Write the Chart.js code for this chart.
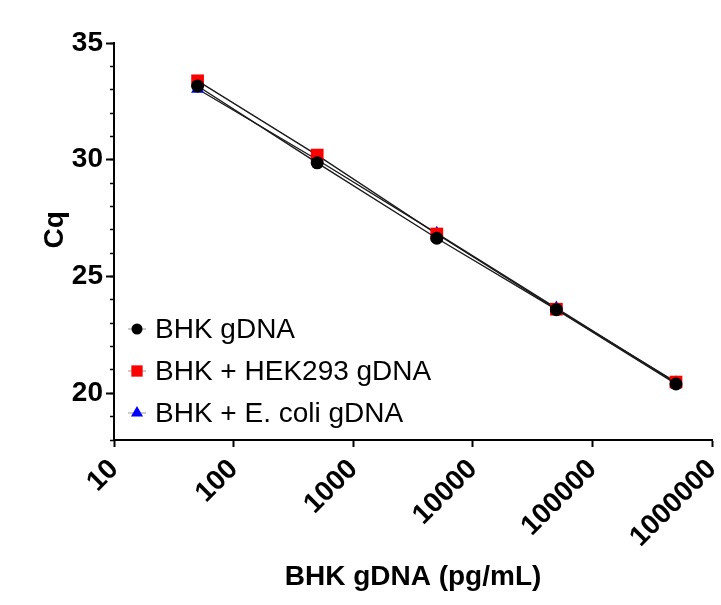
<!DOCTYPE html>
<html><head><meta charset="utf-8">
<script src="https://cdn.jsdelivr.net/npm/chart.js@4.4.1/dist/chart.umd.min.js"></script>
<style>html,body{margin:0;padding:0;background:#fff}#wrap{width:721px;height:605px;position:relative}</style>
</head><body><div id="wrap"><canvas id="c"></canvas></div>
<script>
const concentrations = [50, 500, 5000, 50000, 500000];
const bhkCq = [33.16, 29.87, 26.64, 23.58, 20.40];
const hekCq = [33.38, 30.20, 26.82, 23.60, 20.48];
const ecoliCq = [33.03, 30.00, 26.85, 23.65, 20.45];
const seriesLabels = ['BHK gDNA', 'BHK + HEK293 gDNA', 'BHK + E. coli gDNA'];
const xTickValues = [10, 100, 1000, 10000, 100000, 1000000];
const yLabelValues = [20, 25, 30, 35];

const FONT = "'Liberation Sans', Arial, sans-serif";
const toPts = ys => concentrations.map((x, i) => ({x: x, y: ys[i]}));

const styles = [
  {pointStyle: 'circle', radius: 6.5, color: '#000000', legendR: 5.5},
  {pointStyle: 'rect', radius: 9, color: '#ff0000', legendR: 8},
  {pointStyle: 'triangle', radius: 7.5, color: '#0000ff', legendR: 7}
];
const seriesData = [bhkCq, hekCq, ecoliCq];

const datasets = seriesData.map((ys, i) => ({
  label: seriesLabels[i],
  data: toPts(ys),
  showLine: true,
  borderColor: '#1a1a1a',
  borderWidth: 1.4,
  pointStyle: styles[i].pointStyle,
  pointRadius: styles[i].radius,
  pointHoverRadius: styles[i].radius,
  pointBackgroundColor: styles[i].color,
  pointBorderColor: styles[i].color,
  pointBorderWidth: 0,
  yAxisID: 'y'
}));

const insideLegend = {
  id: 'insideLegend',
  afterDatasetsDraw(chart) {
    const ctx = chart.ctx, a = chart.chartArea;
    ctx.save();
    ctx.font = "28px " + FONT;
    ctx.textBaseline = 'middle';
    ctx.fillStyle = '#000';
    chart.data.datasets.forEach((ds, i) => {
      const cy = a.top + 286 + i * 42;
      const cx = a.left + 23;
      ctx.strokeStyle = '#999';
      ctx.lineWidth = 1;
      ctx.beginPath(); ctx.moveTo(cx - 9, cy); ctx.lineTo(cx + 9, cy); ctx.stroke();
      ctx.fillStyle = styles[i].color;
      const r = styles[i].legendR;
      ctx.beginPath();
      if (styles[i].pointStyle === 'circle') {
        ctx.arc(cx, cy, r, 0, Math.PI * 2);
      } else if (styles[i].pointStyle === 'rect') {
        const s = r * Math.SQRT1_2;
        ctx.rect(cx - s, cy - s, 2 * s, 2 * s);
      } else {
        ctx.moveTo(cx, cy - r);
        ctx.lineTo(cx + r * Math.sin(2 * Math.PI / 3), cy - r * Math.cos(2 * Math.PI / 3));
        ctx.lineTo(cx + r * Math.sin(4 * Math.PI / 3), cy - r * Math.cos(4 * Math.PI / 3));
        ctx.closePath();
      }
      ctx.fill();
      ctx.fillStyle = '#000';
      ctx.fillText(ds.label, a.left + 41, cy + 1);
    });
    ctx.restore();
  }
};

new Chart(document.getElementById('c'), {
  type: 'scatter',
  data: {datasets: datasets},
  plugins: [insideLegend],
  options: {
    responsive: true,
    maintainAspectRatio: false,
    animation: false,
    events: [],
    layout: {padding: {top: 43, right: 9, left: 0, bottom: 0}},
    plugins: {legend: {display: false}, tooltip: {enabled: false}},
    scales: {
      x: {
        type: 'logarithmic',
        min: 10, max: 1000000,
        afterBuildTicks: s => { s.ticks = xTickValues.map(v => ({value: v})); },
        afterFit: s => { s.height = 165; s.paddingRight = 0; s.paddingLeft = 0; },
        ticks: {
          color: '#000', minRotation: 45, maxRotation: 45, padding: 6,
          font: {family: FONT, size: 28, weight: 'bold'},
          callback: v => String(v)
        },
        grid: {display: true, drawOnChartArea: false, drawTicks: true, tickLength: 7, color: '#000', tickWidth: 2},
        border: {display: true, color: '#000', width: 2},
        title: {display: true, text: 'BHK gDNA (pg/mL)', color: '#000',
          font: {family: FONT, size: 28, weight: 'bold'}, padding: {top: 0, bottom: 11}}
      },
      y: {
        type: 'linear', position: 'left', weight: 1,
        min: 18, max: 35,
        afterBuildTicks: s => { s.ticks = yLabelValues.map(v => ({value: v})); },
        afterFit: s => { s.width = 114; },
        ticks: {color: '#000', padding: 3, font: {family: FONT, size: 28, weight: 'bold'}, callback: v => String(v)},
        grid: {display: true, drawOnChartArea: false, drawTicks: true, tickLength: 8, color: '#000', tickWidth: 2},
        border: {display: true, color: '#000', width: 2},
        title: {display: true, text: '   Cq', color: '#000',
          font: {family: FONT, size: 28, weight: 'bold'}, padding: {top: 38, bottom: 0}}
      },
      yMinor: {
        type: 'linear', position: 'left', weight: 0,
        min: 18, max: 35,
        afterFit: s => { s.width = 0; },
        ticks: {display: false, stepSize: 1},
        grid: {display: true, drawOnChartArea: false, drawTicks: true, tickLength: 4, color: '#000', tickWidth: 1.5},
        border: {display: false}
      }
    }
  }
});
</script></body></html>
